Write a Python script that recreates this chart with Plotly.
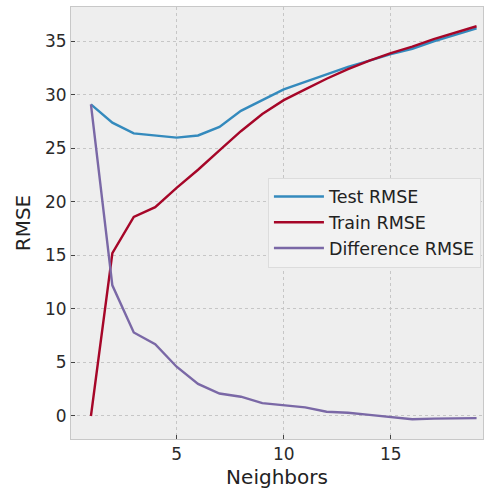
import plotly.graph_objects as go

neighbors = list(range(1, 20))
test_rmse = [29.1, 27.4, 26.4, 26.2, 26.0, 26.2, 27.0, 28.5, 29.5, 30.5, 31.2, 31.9, 32.6, 33.2, 33.8, 34.3, 35.0, 35.6, 36.2]
train_rmse = [0.0, 15.2, 18.6, 19.5, 21.3, 23.0, 24.8, 26.6, 28.2, 29.5, 30.5, 31.5, 32.4, 33.2, 33.9, 34.5, 35.2, 35.8, 36.4]
diff_rmse = [29.1, 12.2, 7.8, 6.7, 4.6, 3.0, 2.1, 1.8, 1.2, 1.0, 0.8, 0.4, 0.3, 0.1, -0.1, -0.3, -0.25, -0.2, -0.2]

names = ["Test RMSE", "Train RMSE", "Difference RMSE"]
colors = ["#348ABD", "#A60628", "#7A68A6"]
font_family = "DejaVu Sans"

fig = go.Figure()
for name, vals, col in zip(names, [test_rmse, train_rmse, diff_rmse], colors):
    fig.add_trace(go.Scatter(x=neighbors, y=vals, mode="lines", name=name,
                             line=dict(color=col, width=2.4)))

axis_common = dict(showgrid=True, gridcolor="#c6c6c6", griddash="dot", gridwidth=1,
                   showline=True, linecolor="#c8c8c8", linewidth=1, mirror=True,
                   ticks="inside", ticklen=4, tickcolor="#444444", zeroline=False,
                   tickfont=dict(family=font_family, size=17, color="#2a2a2a"))

fig.update_layout(
    width=490, height=494,
    margin=dict(l=71, r=7, t=7, b=55),
    paper_bgcolor="white", plot_bgcolor="#eeeeee",
    font=dict(family=font_family, color="#222222"),
    xaxis=dict(range=[0.07, 19.3], tickvals=[5, 10, 15],
               title=dict(text="Neighbors", font=dict(family=font_family, size=20), standoff=6),
               **axis_common),
    yaxis=dict(range=[-2.15, 38.2], tickvals=[0, 5, 10, 15, 20, 25, 30, 35],
               title=dict(text="RMSE", font=dict(family=font_family, size=20), standoff=8),
               **axis_common),
    legend=dict(x=0.478, y=0.605, xanchor="left", yanchor="top",
                bgcolor="#f2f2f2", bordercolor="#dcdcdc", borderwidth=1,
                font=dict(family=font_family, size=17.5, color="#222222"),
                itemwidth=50, tracegroupgap=0),
    showlegend=True,
)

fig.write_html("out.html")
